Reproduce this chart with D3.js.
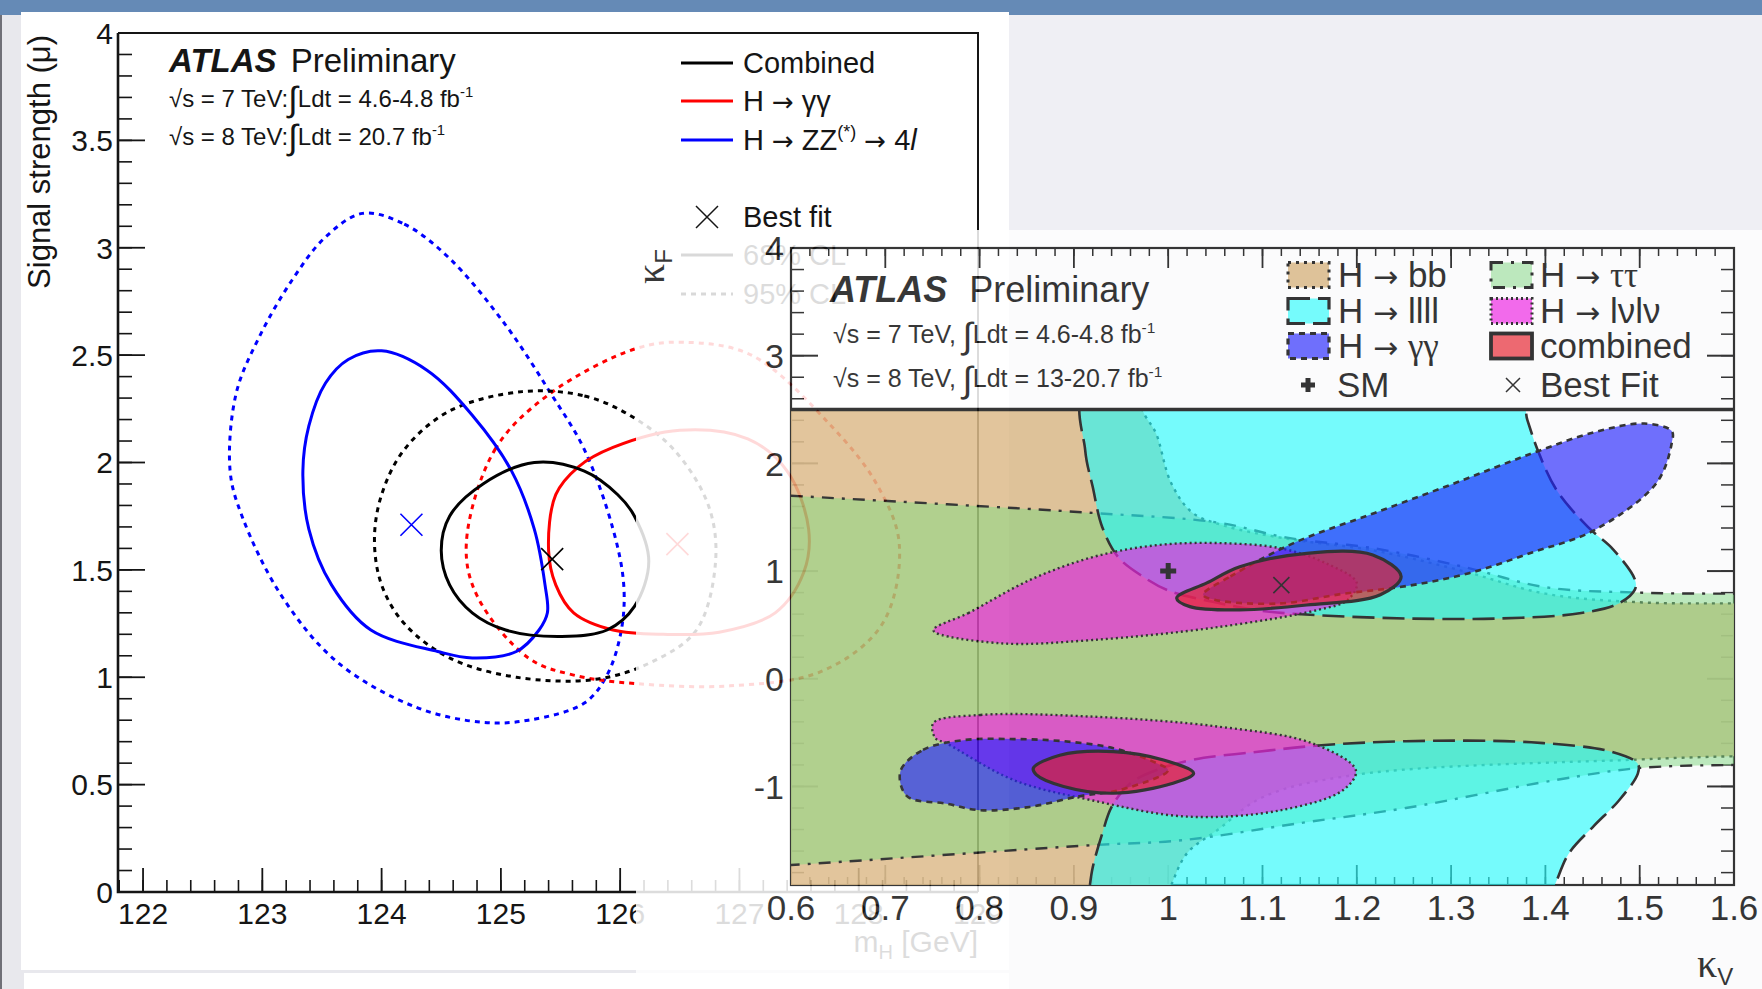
<!DOCTYPE html>
<html>
<head>
<meta charset="utf-8">
<script src="https://cdn.jsdelivr.net/npm/d3@7"></script>
<style>
  body { margin: 0; background: #e8e8ed; }
  svg { display: block; font-family: "Liberation Sans", Arial, sans-serif; }
</style>
</head>
<body>
<svg id="chart" width="1762" height="989"></svg>
<script>
// ---------- left plot : signal strength vs m_H ----------
const mhTicks = [122, 123, 124, 125, 126, 127, 128, 129];
const muTicks = [0, 0.5, 1, 1.5, 2, 2.5, 3, 3.5, 4];

// contours, [m_H (GeV), mu]
const zz68 = [[124.00,2.52],[124.38,2.43],[124.76,2.22],[125.09,1.96],[125.28,1.69],[125.37,1.43],[125.39,1.30],[125.32,1.22],[125.13,1.12],[124.76,1.09],[124.47,1.12],[123.91,1.22],[123.58,1.43],[123.39,1.69],[123.34,1.96],[123.39,2.17],[123.53,2.37],[123.72,2.48]];
const zz95 = [[123.84,3.16],[124.19,3.11],[124.57,2.95],[125.04,2.64],[125.42,2.32],[125.70,2.06],[125.94,1.69],[126.03,1.43],[126.01,1.22],[125.89,1.01],[125.70,0.88],[125.23,0.80],[124.85,0.79],[124.29,0.86],[123.63,1.07],[123.16,1.38],[122.83,1.75],[122.73,1.96],[122.78,2.32],[122.97,2.58],[123.25,2.85],[123.53,3.05]];
const comb68 = [[125.28,2.00],[125.70,1.96],[125.98,1.85],[126.12,1.75],[126.24,1.54],[126.12,1.33],[125.89,1.22],[125.51,1.19],[125.04,1.22],[124.76,1.30],[124.57,1.43],[124.50,1.59],[124.57,1.75],[124.85,1.90]];
const comb95 = [[125.18,2.33],[125.70,2.31],[126.08,2.22],[126.45,2.06],[126.74,1.80],[126.80,1.54],[126.64,1.22],[126.26,1.07],[125.79,0.99],[125.13,1.00],[124.57,1.09],[124.19,1.25],[124.00,1.43],[123.94,1.64],[124.00,1.85],[124.19,2.06],[124.57,2.24]];
const yy68 = [[125.40,1.59],[125.46,1.85],[125.65,1.98],[125.94,2.07],[126.50,2.15],[127.07,2.11],[127.40,1.96],[127.58,1.69],[127.54,1.49],[127.30,1.30],[126.83,1.21],[126.36,1.20],[125.94,1.22],[125.61,1.30],[125.46,1.43]];
const yy95 = [[124.71,1.62],[124.95,2.06],[125.41,2.32],[126.13,2.53],[126.53,2.56],[127.10,2.50],[127.77,2.17],[128.15,1.90],[128.34,1.62],[128.20,1.25],[127.70,1.03],[126.92,0.96],[126.14,0.97],[125.61,1.01],[125.23,1.09],[124.80,1.38]];
const zzBest = [124.25, 1.71];
const combBest = [125.43, 1.55];
const yyBest = [126.48, 1.62];

// ---------- right plot : kappa_F vs kappa_V ----------
const kvTicks = [0.6, 0.7, 0.8, 0.9, 1.0, 1.1, 1.2, 1.3, 1.4, 1.5, 1.6];
const kfTicks = [-1, 0, 1, 2, 3, 4];

const bbRegion = [[0.5,2.7],[0.96,2.7],[0.975,2.45],[0.987,2.28],[1.003,1.82],[1.026,1.54],[1.06,1.42],[1.126,1.30],[1.219,1.19],[1.313,1.0],[1.40,0.79],[1.5,0.71],[1.6,0.70],[1.7,0.70],[1.7,-0.72],[1.6,-0.72],[1.498,-0.75],[1.2,-0.89],[1.1,-1.1],[1.053,-1.40],[1.02,-1.62],[1.003,-1.92],[0.99,-2.2],[0.5,-2.2]];
const tautauRegion = [[0.5,1.75],[0.6,1.70],[0.92,1.54],[1.053,1.45],[1.126,1.31],[1.219,1.21],[1.313,1.04],[1.40,0.85],[1.5,0.80],[1.6,0.79],[1.7,0.79],[1.7,-0.80],[1.6,-0.80],[1.498,-0.83],[1.411,-0.94],[1.252,-1.20],[1.14,-1.34],[1.014,-1.50],[0.92,-1.545],[0.6,-1.73],[0.5,-1.78]];
const llllUpper = [[0.914,2.7],[0.912,2.12],[0.920,1.78],[0.930,1.41],[0.947,1.13],[0.973,0.95],[1.0,0.82],[1.05,0.71],[1.10,0.63],[1.159,0.59],[1.252,0.56],[1.352,0.56],[1.438,0.61],[1.478,0.70],[1.495,0.83],[1.495,0.92],[1.472,1.20],[1.445,1.41],[1.412,1.75],[1.392,2.12],[1.381,2.40],[1.37,2.7]];
const llllLower = [[0.915,-2.1],[0.917,-1.915],[0.92,-1.75],[0.93,-1.44],[0.94,-1.19],[0.96,-0.97],[0.987,-0.85],[1.027,-0.75],[1.093,-0.68],[1.159,-0.62],[1.252,-0.58],[1.385,-0.59],[1.471,-0.68],[1.498,-0.79],[1.498,-0.88],[1.478,-1.13],[1.451,-1.37],[1.425,-1.62],[1.41,-1.915],[1.40,-2.1]];
const lvlvUpper = [[0.751,0.45],[0.788,0.61],[0.854,0.92],[0.92,1.13],[0.987,1.24],[1.053,1.26],[1.12,1.21],[1.168,1.07],[1.2,0.89],[1.19,0.73],[1.159,0.64],[1.053,0.48],[0.92,0.36],[0.821,0.33]];
const lvlvLower = [[0.751,-0.41],[0.801,-0.336],[0.92,-0.352],[1.053,-0.444],[1.153,-0.60],[1.199,-0.85],[1.186,-1.03],[1.12,-1.22],[1.02,-1.28],[0.92,-1.13],[0.836,-0.94],[0.765,-0.60],[0.753,-0.55]];
const yyUpper = [[1.037,0.78],[1.066,0.95],[1.133,1.26],[1.219,1.54],[1.305,1.82],[1.385,2.09],[1.452,2.29],[1.505,2.37],[1.534,2.30],[1.534,2.19],[1.518,1.82],[1.452,1.38],[1.385,1.17],[1.319,0.98],[1.252,0.86],[1.186,0.79],[1.119,0.70],[1.051,0.73]];
const yyLower = [[0.716,-0.86],[0.74,-0.66],[0.783,-0.57],[0.836,-0.56],[0.889,-0.58],[0.942,-0.645],[0.988,-0.785],[1.0,-0.85],[0.95,-1.03],[0.906,-1.09],[0.853,-1.19],[0.80,-1.22],[0.765,-1.16],[0.723,-1.09]];
const combUpper = [[1.009,0.75],[1.041,0.89],[1.076,1.04],[1.147,1.165],[1.217,1.15],[1.247,0.95],[1.225,0.78],[1.147,0.685],[1.076,0.64],[1.023,0.67]];
const combLower = [[0.857,-0.83],[0.885,-0.71],[0.942,-0.676],[0.995,-0.754],[1.027,-0.877],[1.005,-0.97],[0.942,-1.063],[0.889,-1.0],[0.86,-0.89]];
const smPoint = [1.0, 1.0];
const kBest = [1.12, 0.87];

const W = 1762, H = 989;
const ink = '#151515';
const arrowFont = '"DejaVu Sans", sans-serif';
const svg = d3.select('#chart');

// slide background
svg.append('rect').attr('width', W).attr('height', H).attr('fill', '#e8e8ed');
svg.append('rect').attr('width', 2).attr('height', H).attr('fill', '#707078');
svg.append('rect').attr('x', 1009).attr('width', W - 1009).attr('height', 240).attr('fill', '#efeff4');
svg.append('rect').attr('width', W).attr('height', 15).attr('fill', '#658ab6');
svg.append('rect').attr('x', 21).attr('y', 12).attr('width', 988).attr('height', 958).attr('fill', '#fff');
svg.append('rect').attr('x', 24).attr('y', 973).attr('width', 985).attr('height', 16).attr('fill', '#fff');

// ================= left plot =================
const xL = d3.scaleLinear().domain([121.79, 129]).range([118, 978]);
const yL = d3.scaleLinear().domain([0, 4]).range([892, 33]);
const gL = svg.append('g');

// ticks
const mhMinor = d3.range(0, 37).map(i => 121.8 + i * 0.2);
const muMinor = d3.range(0, 41).map(i => i * 0.1);
gL.append('g').selectAll('line').data(mhMinor).join('line')
  .attr('x1', d => xL(d)).attr('x2', d => xL(d))
  .attr('y1', yL(0)).attr('y2', yL(0) - 12)
  .attr('stroke', ink).attr('stroke-width', 1.6);
gL.append('g').selectAll('line').data(mhTicks).join('line')
  .attr('x1', d => xL(d)).attr('x2', d => xL(d))
  .attr('y1', yL(0)).attr('y2', yL(0) - 24)
  .attr('stroke', ink).attr('stroke-width', 1.8);
gL.append('g').selectAll('line').data(muMinor).join('line')
  .attr('x1', xL(121.79)).attr('x2', xL(121.79) + 14)
  .attr('y1', d => yL(d)).attr('y2', d => yL(d))
  .attr('stroke', ink).attr('stroke-width', 1.6);
gL.append('g').selectAll('line').data(muTicks).join('line')
  .attr('x1', xL(121.79)).attr('x2', xL(121.79) + 27)
  .attr('y1', d => yL(d)).attr('y2', d => yL(d))
  .attr('stroke', ink).attr('stroke-width', 1.8);

// frame
gL.append('path')
  .attr('d', `M${xL(121.79)},${yL(4)}H${xL(129)}V${yL(0)}`)
  .attr('fill', 'none').attr('stroke', ink).attr('stroke-width', 2);
gL.append('path')
  .attr('d', `M${xL(121.79)},${yL(4)}V${yL(0)}H${xL(129)}`)
  .attr('fill', 'none').attr('stroke', ink).attr('stroke-width', 2.6);

// tick labels
gL.append('g').selectAll('text').data(mhTicks).join('text')
  .attr('x', d => xL(d)).attr('y', 924)
  .attr('text-anchor', 'middle').attr('font-size', 30).attr('fill', ink)
  .text(d => d);
gL.append('g').selectAll('text').data(muTicks).join('text')
  .attr('x', 113).attr('y', d => yL(d)).attr('dy', '0.36em')
  .attr('text-anchor', 'end').attr('font-size', 30).attr('fill', ink)
  .text(d => String(d));

// axis titles
gL.append('text')
  .attr('transform', 'translate(50,35) rotate(-90)')
  .attr('text-anchor', 'end').attr('font-size', 31).attr('fill', ink)
  .text('Signal strength (μ)');
const mhTitle = gL.append('text')
  .attr('x', 978).attr('y', 952).attr('text-anchor', 'end')
  .attr('font-size', 30).attr('fill', ink);
mhTitle.append('tspan').text('m');
mhTitle.append('tspan').attr('font-size', 20).attr('dy', 7).text('H');
mhTitle.append('tspan').attr('dy', -7).text(' [GeV]');

// contours
const lineL = d3.line()
  .x(d => xL(d[0])).y(d => yL(d[1]))
  .curve(d3.curveCatmullRomClosed.alpha(0.5));
const contourStyle = [
  { pts: zz95, color: '#0000ff', dash: '5,5' },
  { pts: yy95, color: '#ff0000', dash: '5,5' },
  { pts: comb95, color: '#000000', dash: '5,5' },
  { pts: zz68, color: '#0000ff', dash: null },
  { pts: yy68, color: '#ff0000', dash: null },
  { pts: comb68, color: '#000000', dash: null }
];
contourStyle.forEach(c => {
  gL.append('path').attr('d', lineL(c.pts))
    .attr('fill', 'none').attr('stroke', c.color)
    .attr('stroke-width', 3).attr('stroke-dasharray', c.dash);
});

function cross(g, cx, cy, s, color, w) {
  g.append('path')
    .attr('d', `M${cx - s},${cy - s}L${cx + s},${cy + s}M${cx - s},${cy + s}L${cx + s},${cy - s}`)
    .attr('stroke', color).attr('stroke-width', w).attr('fill', 'none');
}
cross(gL, xL(zzBest[0]), yL(zzBest[1]), 11, '#0000ff', 1.6);
cross(gL, xL(combBest[0]), yL(combBest[1]), 11, '#000', 1.6);
cross(gL, xL(yyBest[0]), yL(yyBest[1]), 11, '#ff0000', 1.6);

// ATLAS label
const atl = gL.append('text').attr('x', 169).attr('y', 72).attr('font-size', 33).attr('fill', ink);
atl.append('tspan').attr('font-weight', 'bold').attr('font-style', 'italic').text('ATLAS');
atl.append('tspan').attr('dx', 5).text(' Preliminary');
function lumi(g, x, y, size, pre, post) {
  const t = g.append('text').attr('x', x).attr('y', y).attr('font-size', size).attr('fill', ink);
  t.append('tspan').text(pre);
  t.append('tspan').attr('font-size', size * 1.45).attr('dy', size * 0.18).text('∫');
  t.append('tspan').attr('dy', -size * 0.18).text(post);
  t.append('tspan').attr('font-size', size * 0.62).attr('dy', -size * 0.42).text('-1');
}
lumi(gL, 169, 107, 24, '√s = 7 TeV:', 'Ldt = 4.6-4.8 fb');
lumi(gL, 169, 145, 24, '√s = 8 TeV:', 'Ldt = 20.7 fb');

// legend
const legL = gL.append('g').attr('font-size', 29).attr('fill', ink);
[[63, '#000', null], [101, '#ff0000', null], [140, '#0000ff', null], [255, '#000', null], [294, '#000', '5,5']]
  .forEach(r => {
    legL.append('line').attr('x1', 681).attr('x2', 733).attr('y1', r[0]).attr('y2', r[0])
      .attr('stroke', r[1]).attr('stroke-width', 3).attr('stroke-dasharray', r[2]);
  });
cross(legL, 707, 217, 11, ink, 1.5);
legL.append('text').attr('x', 743).attr('y', 73).text('Combined');
const yyt = legL.append('text').attr('x', 743).attr('y', 111);
yyt.append('tspan').text('H ');
yyt.append('tspan').attr('font-family', arrowFont).attr('font-size', 26).text('→');
yyt.append('tspan').text(' γγ');
const zzt = legL.append('text').attr('x', 743).attr('y', 150);
zzt.append('tspan').text('H ');
zzt.append('tspan').attr('font-family', arrowFont).attr('font-size', 26).text('→');
zzt.append('tspan').text(' ZZ');
zzt.append('tspan').attr('font-size', 18).attr('dy', -12).text('(*)');
zzt.append('tspan').attr('dy', 12).text(' ');
zzt.append('tspan').attr('font-family', arrowFont).attr('font-size', 26).text('→');
zzt.append('tspan').text(' 4');
zzt.append('tspan').attr('font-style', 'italic').text('l');
legL.append('text').attr('x', 743).attr('y', 227).text('Best fit');
legL.append('text').attr('x', 743).attr('y', 265).text('68% CL');
legL.append('text').attr('x', 743).attr('y', 304).text('95% CL');

// ================= right plot (pasted on top, slightly transparent) =================
const gR = svg.append('g').attr('opacity', 0.85);
gR.append('rect').attr('x', 636).attr('y', 230).attr('width', W - 636).attr('height', H - 230).attr('fill', '#fff');

const xR = d3.scaleLinear().domain([0.6, 1.6]).range([791, 1734]);
const yR = d3.scaleLinear().domain([-1.915, 4]).range([885, 248]);
const kvMinor = d3.range(0, 51).map(i => 0.6 + i * 0.02);
const kfMinor = d3.range(-9, 21).map(i => i * 0.2);

// ticks on all four sides
function hTicks(vals, len, w) {
  gR.append('g').selectAll('line').data(vals).join('line')
    .attr('x1', d => xR(d)).attr('x2', d => xR(d))
    .attr('y1', yR(-1.915)).attr('y2', yR(-1.915) - len)
    .attr('stroke', ink).attr('stroke-width', w);
  gR.append('g').selectAll('line').data(vals).join('line')
    .attr('x1', d => xR(d)).attr('x2', d => xR(d))
    .attr('y1', yR(4)).attr('y2', yR(4) + len)
    .attr('stroke', ink).attr('stroke-width', w);
}
function vTicks(vals, len, w) {
  gR.append('g').selectAll('line').data(vals).join('line')
    .attr('x1', xR(0.6)).attr('x2', xR(0.6) + len)
    .attr('y1', d => yR(d)).attr('y2', d => yR(d))
    .attr('stroke', ink).attr('stroke-width', w);
  gR.append('g').selectAll('line').data(vals).join('line')
    .attr('x1', xR(1.6)).attr('x2', xR(1.6) - len)
    .attr('y1', d => yR(d)).attr('y2', d => yR(d))
    .attr('stroke', ink).attr('stroke-width', w);
}
hTicks(kvMinor, 8, 1.5);
hTicks(kvTicks, 20, 1.8);
vTicks(kfMinor, 13, 1.5);
vTicks(kfTicks, 27, 2);
gR.append('rect')
  .attr('x', xR(0.6)).attr('y', yR(4))
  .attr('width', xR(1.6) - xR(0.6)).attr('height', yR(-1.915) - yR(4))
  .attr('fill', 'none').attr('stroke', ink).attr('stroke-width', 2.2);

// tick labels
gR.append('g').selectAll('text').data(kvTicks).join('text')
  .attr('x', d => xR(d)).attr('y', 920)
  .attr('text-anchor', 'middle').attr('font-size', 35).attr('fill', ink)
  .text(d3.format('.1~f'));
gR.append('g').selectAll('text').data(kfTicks).join('text')
  .attr('x', 784).attr('y', d => yR(d)).attr('dy', '0.36em')
  .attr('text-anchor', 'end').attr('font-size', 34).attr('fill', ink)
  .text(d => String(d));

// axis titles
const kvT = gR.append('text').attr('x', 1697).attr('y', 977).attr('fill', ink);
kvT.append('tspan').attr('font-family', '"Liberation Serif", serif').attr('font-size', 40).text('κ');
kvT.append('tspan').attr('font-size', 24).attr('dy', 8).text('V');
const kfT = gR.append('text').attr('transform', 'translate(664,284) rotate(-90)').attr('fill', ink);
kfT.append('tspan').attr('font-family', '"Liberation Serif", serif').attr('font-size', 40).text('κ');
kfT.append('tspan').attr('font-size', 24).attr('dy', 8).text('F');

// regions
const defs = svg.append('defs');
defs.append('clipPath').attr('id', 'plotR').append('rect')
  .attr('x', xR(0.6)).attr('y', yR(2.5))
  .attr('width', xR(1.6) - xR(0.6)).attr('height', yR(-1.915) - yR(2.5));
const lineR = d3.line()
  .x(d => xR(d[0])).y(d => yR(d[1]))
  .curve(d3.curveCatmullRomClosed.alpha(0.5));
const sBB = { fill: 'rgb(216,179,123)', op: 0.88, dash: '3,5', w: 2.4 };
const sTT = { fill: 'rgb(107,211,107)', op: 0.5, dash: '12,8,3,8', w: 2.4 };
const sLL = { fill: 'rgb(0,255,255)', op: 0.62, dash: '22,8', w: 2.6 };
const sLV = { fill: 'rgb(239,0,225)', op: 0.665, dash: '2,3', w: 2.4 };
const sYY = { fill: 'rgb(0,0,255)', op: 0.646, dash: '6,5', w: 2.6 };
const sCB = { fill: 'rgb(230,0,12)', op: 0.67, dash: null, w: 3.2 };
const regions = [
  [bbRegion, sBB], [tautauRegion, sTT], [llllUpper, sLL], [llllLower, sLL],
  [lvlvUpper, sLV], [lvlvLower, sLV], [yyUpper, sYY], [yyLower, sYY],
  [combUpper, sCB], [combLower, sCB]
];
const gReg = gR.append('g').attr('clip-path', 'url(#plotR)');
regions.forEach(([pts, s]) => {
  gReg.append('path').attr('d', lineR(pts))
    .attr('fill', s.fill).attr('fill-opacity', s.op)
    .attr('stroke', ink).attr('stroke-width', s.w).attr('stroke-dasharray', s.dash);
});

// SM point and best fit
const sx = xR(smPoint[0]), sy = yR(smPoint[1]);
gR.append('path').attr('d', `M${sx - 8},${sy}H${sx + 8}M${sx},${sy - 8}V${sy + 8}`)
  .attr('stroke', ink).attr('stroke-width', 5);
cross(gR, xR(kBest[0]), yR(kBest[1]), 8, ink, 1.6);

// legend band
gR.append('line').attr('x1', xR(0.6)).attr('x2', xR(1.6)).attr('y1', yR(2.5)).attr('y2', yR(2.5))
  .attr('stroke', ink).attr('stroke-width', 3.5);
const legR = gR.append('g').attr('font-size', 35).attr('fill', ink);
const legEntries = [
  { s: sBB, col: 0, row: 0, arrow: true, sym: null, txt: 'bb' },
  { s: sTT, col: 1, row: 0, arrow: true, sym: 'ττ', txt: '' },
  { s: sLL, col: 0, row: 1, arrow: true, sym: null, txt: 'llll' },
  { s: sLV, col: 1, row: 1, arrow: true, sym: null, txt: 'lνlν' },
  { s: sYY, col: 0, row: 2, arrow: true, sym: 'γγ', txt: '' },
  { s: sCB, col: 1, row: 2, arrow: false, sym: null, txt: 'combined' }
];
const boxX = [1288, 1491], txtX = [1338, 1540], rowY = [275, 311, 346];
legEntries.forEach(e => {
  legR.append('rect').attr('x', boxX[e.col]).attr('y', rowY[e.row] - 12.5)
    .attr('width', 41).attr('height', 25)
    .attr('fill', e.s.fill).attr('fill-opacity', e.s.op)
    .attr('stroke', ink).attr('stroke-width', e.s.w + 0.6).attr('stroke-dasharray', e.s.dash);
  const t = legR.append('text').attr('x', txtX[e.col]).attr('y', rowY[e.row] + 12);
  if (e.arrow) {
    t.append('tspan').text('H ');
    t.append('tspan').attr('font-family', arrowFont).attr('font-size', 30).text('→');
    t.append('tspan').text(' ');
  }
  if (e.sym) t.append('tspan').attr('font-family', '"Liberation Serif", serif').text(e.sym);
  if (e.txt) t.append('tspan').text(e.txt);
});
legR.append('path').attr('d', 'M1301,385H1315M1308,378V392').attr('stroke', ink).attr('stroke-width', 5);
legR.append('text').attr('x', 1337).attr('y', 397).text('SM');
cross(legR, 1513, 385, 7, ink, 1.5);
legR.append('text').attr('x', 1540).attr('y', 397).text('Best Fit');

const atr = gR.append('text').attr('x', 830).attr('y', 302).attr('font-size', 36).attr('fill', ink);
atr.append('tspan').attr('font-weight', 'bold').attr('font-style', 'italic').text('ATLAS');
atr.append('tspan').attr('dx', 12).text(' Preliminary');
lumi(gR, 833, 343, 25, '√s = 7 TeV, ', 'Ldt = 4.6-4.8 fb');
lumi(gR, 833, 387, 25, '√s = 8 TeV, ', 'Ldt = 13-20.7 fb');
</script>
</body>
</html>
